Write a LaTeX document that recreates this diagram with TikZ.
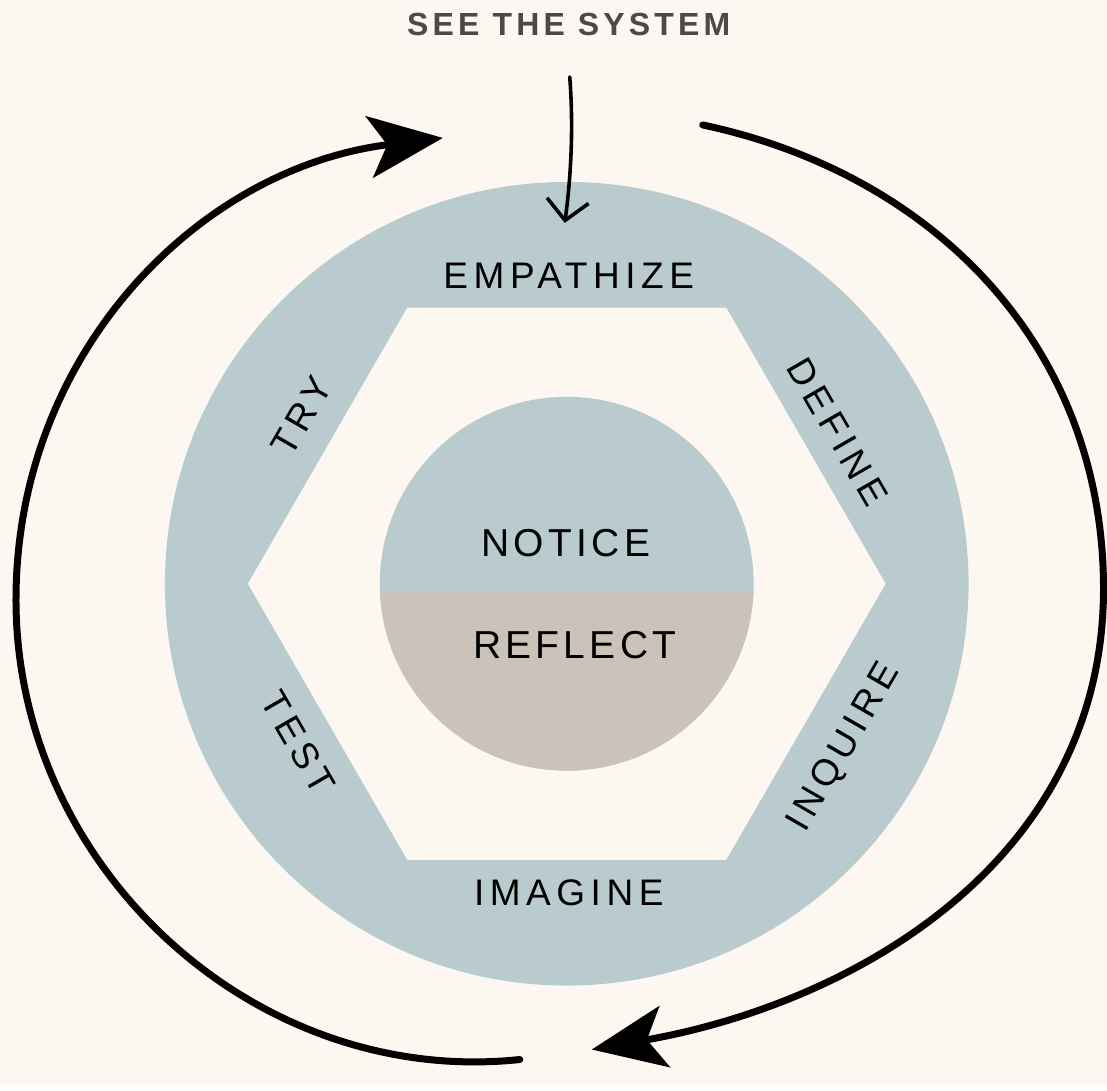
\documentclass[tikz,border=0pt]{standalone}
\usepackage{fontspec}
\setmainfont{Liberation Sans}
\newfontfamily\stagefont[LetterSpace=15]{Liberation Sans}
\newfontfamily\corefont[LetterSpace=11]{Liberation Sans}
\newfontfamily\titlefont[LetterSpace=13]{Liberation Sans}
\usetikzlibrary{arrows.meta}
\usetikzlibrary{positioning}
\definecolor{paper}{rgb}{0.988, 0.969, 0.945}
\definecolor{ringblue}{rgb}{0.725, 0.796, 0.808}
\definecolor{sand}{rgb}{0.796, 0.761, 0.725}
\definecolor{inkgrey}{rgb}{0.29, 0.29, 0.29}
\tikzset{stagelabel/.style = {font=\stagefont\fontsize{18.5}{21}\selectfont, inner sep=0pt},
         corelabel/.style = {font=\corefont\fontsize{19.5}{22}\selectfont, inner sep=0pt},
         titletext/.style = {font=\titlefont\bfseries\fontsize{16}{18}\selectfont, text=inkgrey, inner sep=0pt},
         cyclearrow/.style = {line width=3.5pt, line cap=round,
                              -{Stealth[length=37pt, width=31pt, inset=9pt]}},
         sketchpen/.style = {line width=1.8pt, line cap=round,
                             -{Straight Barb[length=10pt, width=21pt, line width=1.8pt]}}}

\begin{document}
\begin{tikzpicture}[x=0.5pt, y=0.5pt]
    \fill [paper] (0, 0) rectangle (1107, 1084);
    \coordinate (hub) at (567, 500);
    \fill [ringblue] (hub) circle (402);
    \fill [paper, shift={(hub)}] (0:319) \foreach \a in {60,120,...,300} { -- (\a:319) } -- cycle;
    \fill [ringblue] (hub) circle (187);
    \begin{scope}
      \clip (hub) circle (187);
      \fill [sand] (360, 493) rectangle (780, 300);
    \end{scope}

    \node [titletext] (seeSystem) at (569, 1059) {SEE THE SYSTEM};
    \node [stagelabel] (empathize) at (569, 808) {EMPATHIZE};
    \node [stagelabel, rotate=-60] (define) at (838, 652) {DEFINE};
    \node [stagelabel, rotate=60] (inquire) at (845, 336) {INQUIRE};
    \node [stagelabel] (imagine) at (569, 191) {IMAGINE};
    \node [stagelabel, rotate=-60] (test) at (298, 341) {TEST};
    \node [stagelabel, rotate=60] (try) at (302, 668) {TRY};
    \node [corelabel] (notice) at (566, 541) {NOTICE};
    \node [corelabel] (reflect) at (575, 439) {REFLECT};

    \coordinate (penStart) at (570, 1007);
    \coordinate (penTip) at (565, 861);
    \draw [sketchpen] (penStart) .. controls (574, 955) and (571, 905) .. (penTip);

    \coordinate (leftFoot) at (520, 24);
    \coordinate (leftSide) at (16, 484);
    \coordinate (leftHead) at (443, 946);
    \draw [cyclearrow] (leftFoot) to [out=186, in=-90] (leftSide) to [out=90, in=187] (leftHead);
    \coordinate (rightTop) at (703, 959);
    \coordinate (rightSide) at (1104, 495);
    \coordinate (rightHead) at (592, 34);
    \draw [cyclearrow] (rightTop) to [out=-12, in=90] (rightSide) to [out=-90, in=10] (rightHead);
  \end{tikzpicture}
\end{document}
